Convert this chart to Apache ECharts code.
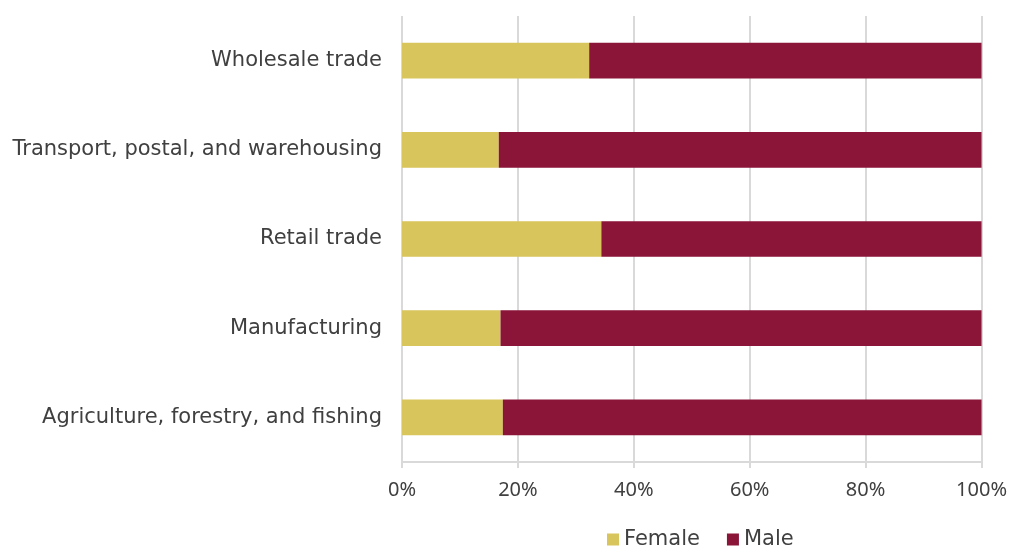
<!DOCTYPE html>
<html>
<head>
<meta charset="utf-8">
<script src="https://cdn.jsdelivr.net/npm/echarts@6/dist/echarts.min.js"></script>
<style>
  html, body { margin: 0; padding: 0; background: #ffffff; }
  #chart { width: 1010px; height: 548px; }
</style>
</head>
<body>
<div id="chart"></div>
<script>
// Industries, listed bottom to top on the category axis
const industries = [
  'Agriculture, forestry, and fishing',
  'Manufacturing',
  'Retail trade',
  'Transport, postal, and warehousing',
  'Wholesale trade'
];
// Share of workers by gender (%)
const female = [17.4, 17.0, 34.4, 16.7, 32.3];
const male = [82.6, 83.0, 65.6, 83.3, 67.7];
const xTicks = [0, 20, 40, 60, 80, 100];

const textColor = '#404040';
const gridColor = '#d9d9d9';

const chart = echarts.init(document.getElementById('chart'));
chart.setOption({
  animation: false,
  textStyle: { fontFamily: 'Noto Sans, sans-serif' },
  grid: { left: 402, right: 28, top: 16, bottom: 86, containLabel: false },
  legend: {
    left: 602,
    top: 524,
    itemWidth: 12,
    itemHeight: 12,
    itemGap: 27,
    icon: 'rect',
    textStyle: { color: textColor, fontSize: 21, fontFamily: 'DejaVu Sans, sans-serif' },
    data: ['Female', 'Male']
  },
  xAxis: {
    type: 'value',
    min: xTicks[0],
    max: xTicks[xTicks.length - 1],
    interval: xTicks[1] - xTicks[0],
    axisLine: { show: true, lineStyle: { color: gridColor, width: 2 } },
    axisTick: { show: true, length: 6, lineStyle: { color: gridColor, width: 2 } },
    splitLine: { show: true, lineStyle: { color: gridColor, width: 2 } },
    axisLabel: {
      color: textColor,
      fontSize: 20,
      margin: 18,
      formatter: v => v + '%'
    }
  },
  yAxis: {
    type: 'category',
    data: industries,
    axisLine: { show: false },
    axisTick: { show: false },
    axisLabel: { color: textColor, fontSize: 21, fontFamily: 'DejaVu Sans, sans-serif', margin: 20 }
  },
  series: [
    {
      name: 'Female',
      type: 'bar',
      stack: 'share',
      barCategoryGap: '60%',
      itemStyle: { color: '#d8c55b' },
      data: female
    },
    {
      name: 'Male',
      type: 'bar',
      stack: 'share',
      barCategoryGap: '60%',
      itemStyle: { color: '#8a1538' },
      data: male
    }
  ]
});
</script>
</body>
</html>
